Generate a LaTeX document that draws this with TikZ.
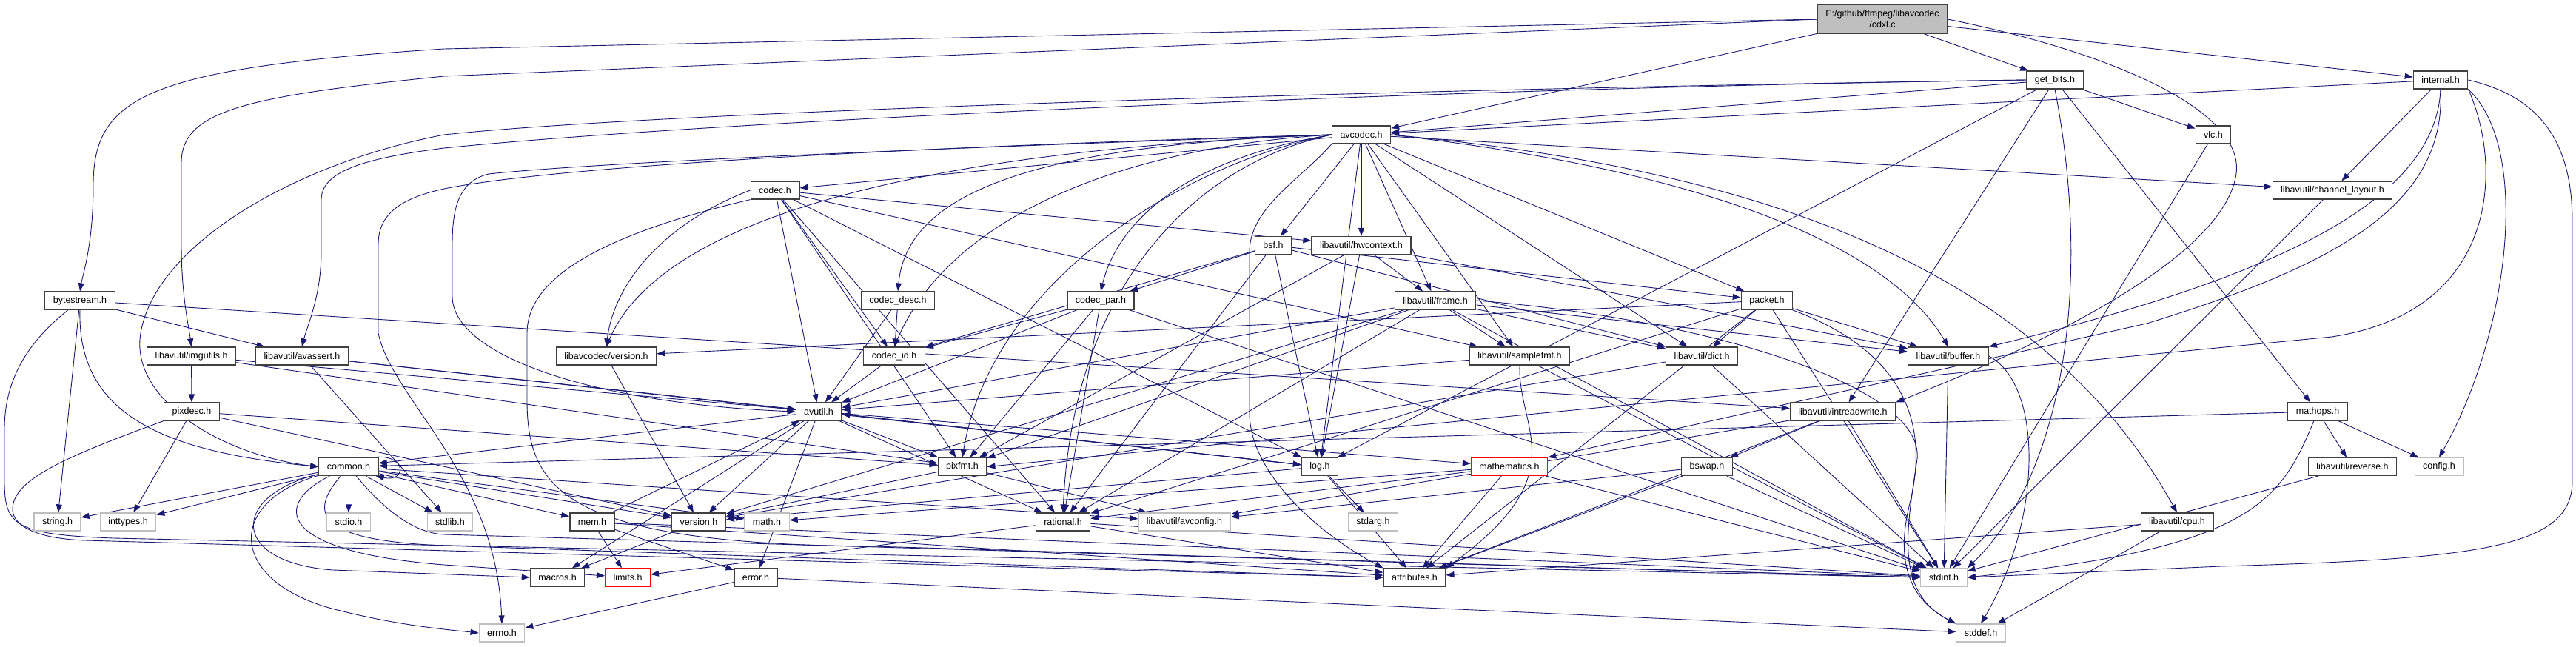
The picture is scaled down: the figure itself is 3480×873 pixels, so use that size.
\documentclass[tikz,border=0pt]{standalone}
\usepackage{fontspec}
\setmainfont{Liberation Sans}
\usetikzlibrary{arrows.meta, backgrounds}

\definecolor{depblue}{HTML}{191970}
\definecolor{boxedge}{HTML}{404040}
\definecolor{sysedge}{HTML}{BFBFBF}
\definecolor{rootfill}{HTML}{BFBFBF}

\tikzstyle{hdr} = [
  rectangle, draw=boxedge, fill=white, line width=1.2pt,
  inner xsep=11pt, inner ysep=0pt, minimum height=24pt,
  font=\fontsize{12.5}{15}\selectfont
]
\tikzstyle{syshdr} = [hdr, draw=sysedge]
\tikzstyle{cuthdr} = [hdr, draw=red]
\tikzstyle{roothdr} = [hdr, fill=rootfill, minimum height=38.5pt, align=center]
\tikzstyle{dep} = [draw=depblue, line width=0.9pt, -{Triangle[length=11pt,width=8pt]}]

\begin{document}
\begin{tikzpicture}[x=1pt, y=-1pt]
  \useasboundingbox (0,0) rectangle (3480,873);

  % rank 0 - 4
  \node[roothdr] (cdxl) at (2543,26) {E:/github/ffmpeg/libavcodec\\/cdxl.c};
  \node[hdr] (getbits) at (2776,108) {get\_bits.h};
  \node[hdr] (internal) at (3297,108) {internal.h};
  \node[hdr] (avcodec) at (1839,182) {avcodec.h};
  \node[hdr] (vlc) at (2990,182) {vlc.h};
  \node[hdr] (codec) at (1047,257) {codec.h};
  \node[hdr] (chlayout) at (3151,257) {libavutil/channel\_layout.h};
  \node[hdr] (bsf) at (1720,331.5) {bsf.h};
  \node[hdr] (hwctx) at (1839,331.5) {libavutil/hwcontext.h};

  % rank 5 - 7
  \node[hdr] (bytestream) at (108,406) {bytestream.h};
  \node[hdr] (codecdesc) at (1213,406) {codec\_desc.h};
  \node[hdr] (codecpar) at (1487,406) {codec\_par.h};
  \node[hdr] (frame) at (1939,406) {libavutil/frame.h};
  \node[hdr] (packet) at (2387,406) {packet.h};
  \node[hdr] (imgutils) at (258.5,481) {libavutil/imgutils.h};
  \node[hdr] (avassert) at (408,481) {libavutil/avassert.h};
  \node[hdr] (lavcver) at (819,481) {libavcodec/version.h};
  \node[hdr] (codecid) at (1208,481) {codec\_id.h};
  \node[hdr] (samplefmt) at (2053,481) {libavutil/samplefmt.h};
  \node[hdr] (dict) at (2299,481) {libavutil/dict.h};
  \node[hdr] (buffer) at (2632,481) {libavutil/buffer.h};
  \node[hdr] (pixdesc) at (259,556) {pixdesc.h};
  \node[hdr] (avutil) at (1106,556) {avutil.h};
  \node[hdr] (intrw) at (2489.5,556) {libavutil/intreadwrite.h};
  \node[hdr] (mathops) at (3131,556) {mathops.h};

  % rank 8 - 11
  \node[hdr] (common) at (471,630.5) {common.h};
  \node[hdr] (pixfmt) at (1300,630.5) {pixfmt.h};
  \node[hdr] (log) at (1783,630.5) {log.h};
  \node[cuthdr] (mathem) at (2039,630.5) {mathematics.h};
  \node[hdr] (bswap) at (2306,630.5) {bswap.h};
  \node[hdr] (reverse) at (3178,630.5) {libavutil/reverse.h};
  \node[syshdr] (config) at (3295,630.5) {config.h};
  \node[syshdr] (string) at (77.5,705) {string.h};
  \node[syshdr] (inttypes) at (173,705) {inttypes.h};
  \node[syshdr] (stdio) at (471,705) {stdio.h};
  \node[syshdr] (stdlib) at (608,705) {stdlib.h};
  \node[hdr] (mem) at (800,705) {mem.h};
  \node[hdr] (version) at (944,705) {version.h};
  \node[syshdr] (math) at (1036,705) {math.h};
  \node[hdr] (rational) at (1436,705) {rational.h};
  \node[syshdr] (avconfig) at (1600,705) {libavutil/avconfig.h};
  \node[syshdr] (stdarg) at (1855,705) {stdarg.h};
  \node[hdr] (cpu) at (2941,705) {libavutil/cpu.h};
  \node[hdr] (macros) at (753,780) {macros.h};
  \node[cuthdr] (limits) at (848,780) {limits.h};
  \node[hdr] (error) at (1021,780) {error.h};
  \node[hdr] (attributes) at (1911,780) {attributes.h};
  \node[syshdr] (stdint) at (2626,780) {stdint.h};
  \node[syshdr] (errno) at (678,855) {errno.h};
  \node[syshdr] (stddef) at (2676,855) {stddef.h};

  \begin{scope}[on background layer]
    \foreach \s/\t in {cdxl/avcodec, cdxl/getbits, cdxl/internal,
      getbits/avcodec, getbits/vlc, getbits/mathops, getbits/intrw, getbits/log,
      internal/avcodec, internal/chlayout,
      avcodec/samplefmt, avcodec/chlayout, avcodec/dict, avcodec/frame,
      avcodec/hwctx, avcodec/log, avcodec/bsf, avcodec/codec, avcodec/packet,
      vlc/stdint, chlayout/stdint,
      codec/avutil, codec/hwctx, codec/log, codec/pixfmt,
      codec/rational, codec/samplefmt, codec/codecid,
      bsf/dict, bsf/log, bsf/rational, bsf/codecid, bsf/codecpar, bsf/packet,
      hwctx/buffer, hwctx/frame, hwctx/log, hwctx/pixfmt,
      bytestream/string, bytestream/avassert, bytestream/intrw,
      codecdesc/avutil, codecdesc/codecid,
      codecpar/stdint, codecpar/avutil, codecpar/rational, codecpar/pixfmt, codecpar/codecid,
      frame/stdint, frame/avutil, frame/buffer, frame/dict, frame/rational,
      frame/samplefmt, frame/pixfmt, frame/version,
      packet/stdint, packet/attributes, packet/buffer, packet/dict,
      packet/rational, packet/lavcver,
      imgutils/avutil, imgutils/pixdesc, imgutils/pixfmt,
      avassert/stdlib, avassert/avutil, avassert/log,
      lavcver/version, codecid/avutil,
      samplefmt/stdint, samplefmt/avutil,
      dict/stdint, dict/version, buffer/stdint,
      pixdesc/inttypes, pixdesc/pixfmt, pixdesc/version,
      avutil/common, avutil/error, avutil/rational, avutil/version,
      avutil/macros, avutil/mathem, avutil/log, avutil/pixfmt,
      intrw/stdint, intrw/avconfig, intrw/attributes, intrw/bswap,
      mathops/common, mathops/reverse, mathops/config,
      common/inttypes, common/math, common/stdio, common/stdlib,
      common/string, common/version, common/avconfig, common/mem,
      pixfmt/avconfig, pixfmt/version,
      log/stdarg, log/avutil, log/attributes, log/version,
      mathem/stdint, mathem/math, mathem/attributes, mathem/rational,
      bswap/stdint, bswap/avconfig, bswap/attributes, reverse/stdint,
      mem/limits, mem/stdint, mem/attributes, mem/error, mem/avutil,
      version/macros, rational/stdint, rational/limits, rational/attributes,
      error/errno, error/stddef, cpu/stddef, cpu/attributes}
      \draw[dep] (\s) -- (\t);

    % long routed edges
    \draw[dep] (cdxl.west) -- (600,66) .. controls (200,92) and (126,130) .. (126,250)
      .. controls (126,330) and (112,370) .. (bytestream.north);
    \draw[dep] (cdxl.west) -- (600,103) .. controls (330,130) and (245,150) .. (245,220)
      -- (245,330) .. controls (245,400) and (255,440) .. (imgutils.north);
    \draw[dep] (cdxl.east) .. controls (2850,70) and (3040,150) .. (3020,240)
      .. controls (3000,340) and (2800,450) .. (intrw.north east);
    \draw[dep] (getbits.west) .. controls (2000,118) and (1000,160) .. (600,200)
      .. controls (480,215) and (434,235) .. (434,270) -- (434,340)
      .. controls (434,400) and (415,440) .. (avassert.north);
    \draw[dep] (getbits.west) .. controls (1900,120) and (900,150) .. (600,182)
      .. controls (400,220) and (210,330) .. (190,450)
      .. controls (175,540) and (300,615) .. (common.west);
    \draw[dep] (getbits.south) .. controls (2830,400) and (2780,650) .. (stdint.north east);
    \draw[dep] (internal.south) .. controls (3290,280) and (3050,380) .. (buffer.north east);
    \draw[dep] (internal.south) .. controls (3305,280) and (3150,360) .. (2900,437) -- (mathem.north east);
    \draw[dep] (internal.south east) .. controls (3380,220) and (3380,420) .. (3150,455) -- (pixfmt.east);
    \draw[dep] (internal.south east) .. controls (3420,200) and (3390,450) .. (config.north);
    \draw[dep] (internal.east) .. controls (3430,130) and (3475,190) .. (3475,300) -- (3475,650)
      .. controls (3475,740) and (3350,755) .. (3000,765) -- (stdint.east);
    \draw[dep] (avcodec.east) .. controls (2300,230) and (2550,330) .. (buffer.north);
    \draw[dep] (avcodec.east) .. controls (2350,225) and (2750,350) .. (cpu.north);
    \draw[dep] (avcodec.west) .. controls (1500,190) and (800,215) .. (600,255)
      .. controls (540,268) and (511,290) .. (511,330) -- (511,450)
      .. controls (530,540) and (670,640) .. (errno.north);
    \draw[dep] (avcodec.west) .. controls (1500,192) and (850,215) .. (660,235)
      .. controls (620,245) and (611,280) .. (611,330) -- (611,400)
      .. controls (611,480) and (800,545) .. (avutil.west);
    \draw[dep] (avcodec.west) .. controls (1400,195) and (1225,260) .. (codecdesc.north);
    \draw[dep] (avcodec.west) .. controls (1600,215) and (1510,300) .. (codecpar.north);
    \draw[dep] (avcodec.west) .. controls (1620,220) and (1450,380) .. (rational.north);
    \draw[dep] (avcodec.west) .. controls (1600,220) and (1340,380) .. (pixfmt.north);
    \draw[dep] (avcodec.west) .. controls (1500,200) and (1280,300) .. (codecid.north);
    \draw[dep] (avcodec.west) .. controls (1300,200) and (900,280) .. (lavcver.north);
    \draw[dep] (avcodec.south west) .. controls (1760,240) and (1688,280) .. (1688,340)
      -- (1688,560) .. controls (1690,640) and (1780,720) .. (attributes.north west);
    \draw[dep] (codec.west) .. controls (900,300) and (830,380) .. (lavcver.north);
    \draw[dep] (codec.south west) .. controls (800,320) and (712,380) .. (712,450) -- (712,540)
      .. controls (712,660) and (760,735) .. (1180,738) -- (stdint.west);
    \draw[dep] (bytestream.south) .. controls (104,560) and (220,610) .. (common.west);
    \draw[dep] (bytestream) .. controls (40,460) and (6,510) .. (6,580) -- (6,650)
      .. controls (6,710) and (20,722) .. (153,727) -- (stdint.west);
    \draw[dep] (pixdesc.south west) .. controls (80,620) and (15,650) .. (17,690)
      .. controls (20,715) and (60,728) .. (115,730) -- (attributes.west);
    \draw[dep] (common) .. controls (300,680) and (310,790) .. (460,825)
      .. controls (540,845) and (600,850) .. (errno.west);
    \draw[dep] (common) .. controls (310,670) and (310,760) .. (450,770) -- (macros.west);
    \draw[dep] (common) .. controls (370,680) and (370,745) .. (600,763) -- (limits);
    \draw[dep] (common) .. controls (420,690) and (420,730) .. (600,737) -- (attributes.west);
    \draw[dep] (common) .. controls (520,690) and (560,720) .. (600,722) -- (stdint.west);
    \draw[dep] ([xshift=-8pt]common.north east) .. controls (550,612) and (550,652)
      .. ([xshift=-4pt]common.south east);
    \draw[dep] (samplefmt.south) .. controls (2050,580) and (2130,640) .. (attributes.north east);
    \draw[dep] (frame.east) .. controls (2300,430) and (2600,520) .. (2590,620)
      .. controls (2575,720) and (2560,800) .. (stddef.north west);
    \draw[dep] (packet) .. controls (2560,470) and (2610,560) .. (2580,680)
      .. controls (2560,760) and (2580,810) .. (stddef.north west);
    \draw[dep] (buffer.east) .. controls (2760,520) and (2760,700) .. (stddef.north);
    \draw[dep] (mathops) .. controls (3080,680) and (3040,740) .. (stdint.east);
  \end{scope}
\end{tikzpicture}
\end{document}
